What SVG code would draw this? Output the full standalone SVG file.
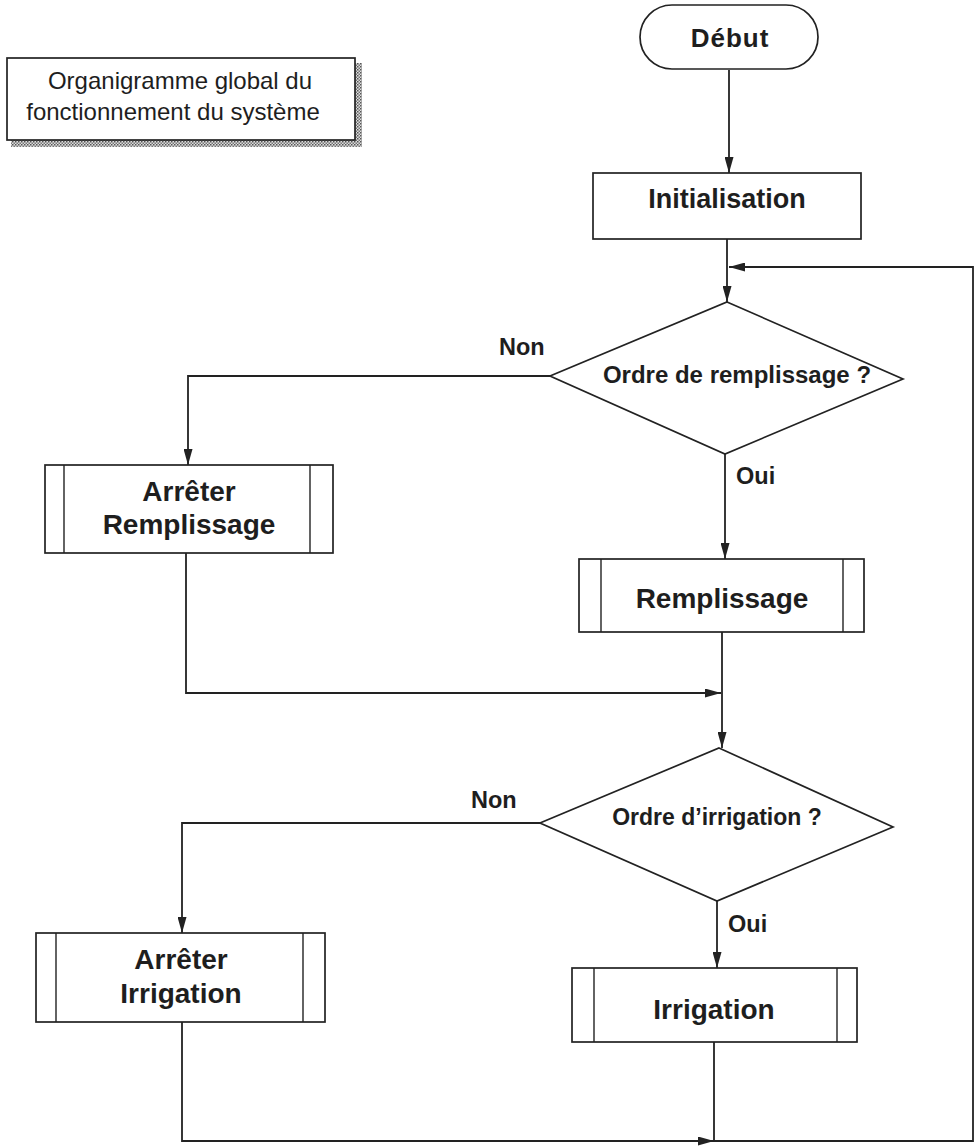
<svg xmlns="http://www.w3.org/2000/svg" width="980" height="1147" viewBox="0 0 980 1147">
<style>
.box{fill:#fff;stroke:#222;stroke-width:1.7}
.in{stroke:#222;stroke-width:1.4;fill:none}
.con{fill:none;stroke:#222;stroke-width:1.8}
.t{font-family:"Liberation Sans",Arial,sans-serif;fill:#1e1e1e;text-anchor:middle}
.b{font-weight:bold}
.lbl{font-family:"Liberation Sans",Arial,sans-serif;fill:#1e1e1e;font-weight:bold;font-size:23.5px}
</style>
<defs>
<marker id="ah" markerUnits="userSpaceOnUse" viewBox="0 0 16 9" refX="16" refY="4.5" markerWidth="16" markerHeight="9" orient="auto">
<path d="M0,0 L16,4.5 L0,9 z" fill="#222"/>
</marker>
<pattern id="hatch" width="3" height="3" patternUnits="userSpaceOnUse">
<rect width="3" height="3" fill="#ddd"/>
<rect width="1.5" height="1.5" fill="#555"/>
<rect x="1.5" y="1.5" width="1.5" height="1.5" fill="#777"/>
</pattern>
</defs>
<rect width="980" height="1147" fill="#fff"/>

<g id="title">
<rect x="11" y="63" width="351" height="84" fill="url(#hatch)"/>
<rect class="box" x="7" y="58" width="348" height="82"/>
<text class="t" x="180" y="89" font-size="24">Organigramme global du</text>
<text class="t" x="173" y="120" font-size="24">fonctionnement du système</text>
</g>

<g id="connectors">
<path class="con" d="M729,70 V173" marker-end="url(#ah)"/>
<path class="con" d="M727,239 V302" marker-end="url(#ah)"/>
<path class="con" d="M550,376 H188 V465" marker-end="url(#ah)"/>
<path class="con" d="M725,454 V559" marker-end="url(#ah)"/>
<path class="con" d="M186,553 V693 H721" marker-end="url(#ah)"/>
<path class="con" d="M722,632 V748" marker-end="url(#ah)"/>
<path class="con" d="M540,823 H182 V933" marker-end="url(#ah)"/>
<path class="con" d="M717,901 V968" marker-end="url(#ah)"/>
<path class="con" d="M182,1022 V1141 H714" marker-end="url(#ah)"/>
<path class="con" d="M714,1042 V1141 H973 V267 H729" marker-end="url(#ah)"/>
</g>

<g id="debut">
<rect class="box" x="640" y="5" width="178" height="64" rx="32" ry="32"/>
<text class="t b" x="730" y="47" font-size="26" letter-spacing="1">Début</text>
</g>

<g id="initialisation">
<rect class="box" x="593" y="173" width="268" height="66"/>
<text class="t b" x="727" y="208" font-size="27">Initialisation</text>
</g>

<g id="decision-remplissage">
<polygon class="box" points="727,302 903,379 725,454 550,376"/>
<text class="t b" x="737" y="383" font-size="24">Ordre de remplissage ?</text>
</g>
<text class="lbl" x="499" y="355">Non</text>
<text class="lbl" x="736" y="484">Oui</text>

<g id="arreter-remplissage">
<rect class="box" x="45" y="465" width="288" height="88"/>
<line class="in" x1="64" y1="465" x2="64" y2="553"/>
<line class="in" x1="310" y1="465" x2="310" y2="553"/>
<text class="t b" x="189" y="501" font-size="28">Arrêter</text>
<text class="t b" x="189" y="534" font-size="28">Remplissage</text>
</g>

<g id="remplissage">
<rect class="box" x="579" y="559" width="285" height="73"/>
<line class="in" x1="601" y1="559" x2="601" y2="632"/>
<line class="in" x1="843" y1="559" x2="843" y2="632"/>
<text class="t b" x="722" y="608" font-size="28">Remplissage</text>
</g>

<g id="decision-irrigation">
<polygon class="box" points="719,748 893,827 717,901 540,823"/>
<text class="t b" x="717" y="825" font-size="23">Ordre d’irrigation ?</text>
</g>
<text class="lbl" x="471" y="808">Non</text>
<text class="lbl" x="728" y="932">Oui</text>

<g id="arreter-irrigation">
<rect class="box" x="36" y="933" width="289" height="89"/>
<line class="in" x1="56" y1="933" x2="56" y2="1022"/>
<line class="in" x1="303" y1="933" x2="303" y2="1022"/>
<text class="t b" x="181" y="969" font-size="28">Arrêter</text>
<text class="t b" x="181" y="1003" font-size="28">Irrigation</text>
</g>

<g id="irrigation">
<rect class="box" x="572" y="968" width="285" height="74"/>
<line class="in" x1="594" y1="968" x2="594" y2="1042"/>
<line class="in" x1="837" y1="968" x2="837" y2="1042"/>
<text class="t b" x="714" y="1019" font-size="28">Irrigation</text>
</g>
</svg>
